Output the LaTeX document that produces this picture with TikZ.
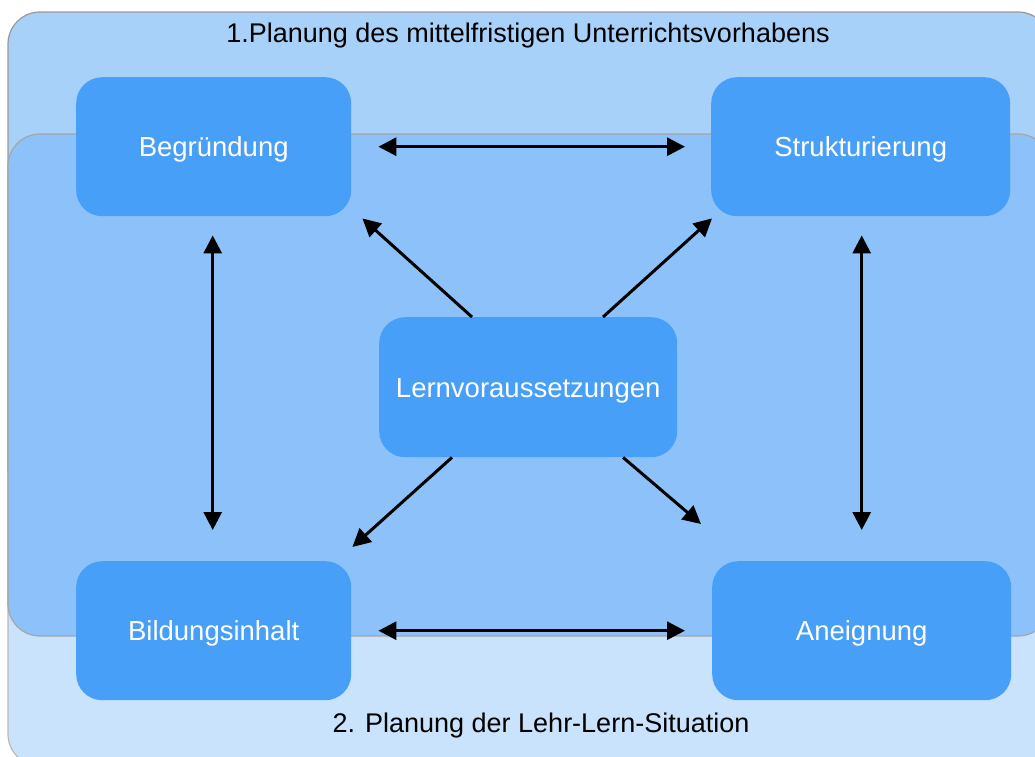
\documentclass[tikz,border=0pt]{standalone}
\usepackage{fontspec}
\setmainfont{Liberation Sans}
\usetikzlibrary{arrows.meta,calc}
\definecolor{boxblue}{HTML}{479FF8}
\definecolor{toparea}{HTML}{A8D1F9}
\definecolor{midarea}{HTML}{8CC2F9}
\definecolor{botarea}{HTML}{C8E3FB}
\tikzset{
  stepbox/.style={rectangle, rounded corners=26pt, fill=boxblue, draw=none,
    text=white, font=\fontsize{27.5}{30}\selectfont, anchor=north west,
    inner sep=0pt, text depth=0pt, text height=20pt},
  arr/.style={line width=3pt, -{Triangle[length=18pt,width=18pt]}},
  darr/.style={line width=3pt, {Triangle[length=18pt,width=18pt]}-{Triangle[length=18pt,width=18pt]}},
  area/.style={rounded corners=32pt, line width=1.2pt},
  title/.style={font=\fontsize{27}{30}\selectfont, text=black, inner sep=0pt}
}
\begin{document}
\begin{tikzpicture}[x=1pt,y=-1pt]
\useasboundingbox (0,0) rectangle (1035,756);
\clip (0,0) rectangle (1035,756);
% areas
\draw[area, fill=botarea, draw=gray!55] (8,300) rectangle (1050,766);
\draw[area, fill=toparea, draw=gray!80] (8,12) rectangle (1050,500);
\draw[area, fill=midarea, draw=gray!70] (8,134) rectangle (1050,636);
% titles
\node[title] (t1) at (528,36) {1.Planung des mittelfristigen Unterrichtsvorhabens};
\node[title] (t2) at (541,726) {2. Planung der Lehr-Lern-Situation};
% boxes
\node[stepbox, minimum width=275pt, minimum height=139pt] (B) at (76,77) {Begründung};
\node[stepbox, minimum width=299pt, minimum height=139pt] (S) at (711,77) {Strukturierung};
\node[stepbox, minimum width=275pt, minimum height=139pt] (I) at (76,561) {Bildungsinhalt};
\node[stepbox, minimum width=299pt, minimum height=139pt] (A) at (712,561) {Aneignung};
\node[stepbox, minimum width=298pt, minimum height=140pt] (L) at (379,317) {Lernvoraussetzungen};
% connectors
\draw[darr] ($(B.east)+(27,0)$) -- ($(S.west)+(-26,0)$);
\draw[darr] ($(I.east)+(27,0)$) -- ($(A.west)+(-27,0)$);
\draw[darr] ($(B.south)+(-1,19)$) -- ($(I.north)+(-1,-31)$);
\draw[darr] ($(S.south)+(1,19)$) -- ($(A.north)+(0,-31)$);
\draw[arr] ($(L.north west)+(93,0)$) -- ($(B.south east)+(11,2)$);
\draw[arr] ($(L.north west)+(224,0)$) -- ($(S.south west)+(1,2)$);
\draw[arr] ($(L.south west)+(73,0)$) -- ($(I.north east)+(1,-14)$);
\draw[arr] ($(L.south west)+(244,0)$) -- ($(A.north west)+(-11,-37)$);
\end{tikzpicture}
\end{document}
